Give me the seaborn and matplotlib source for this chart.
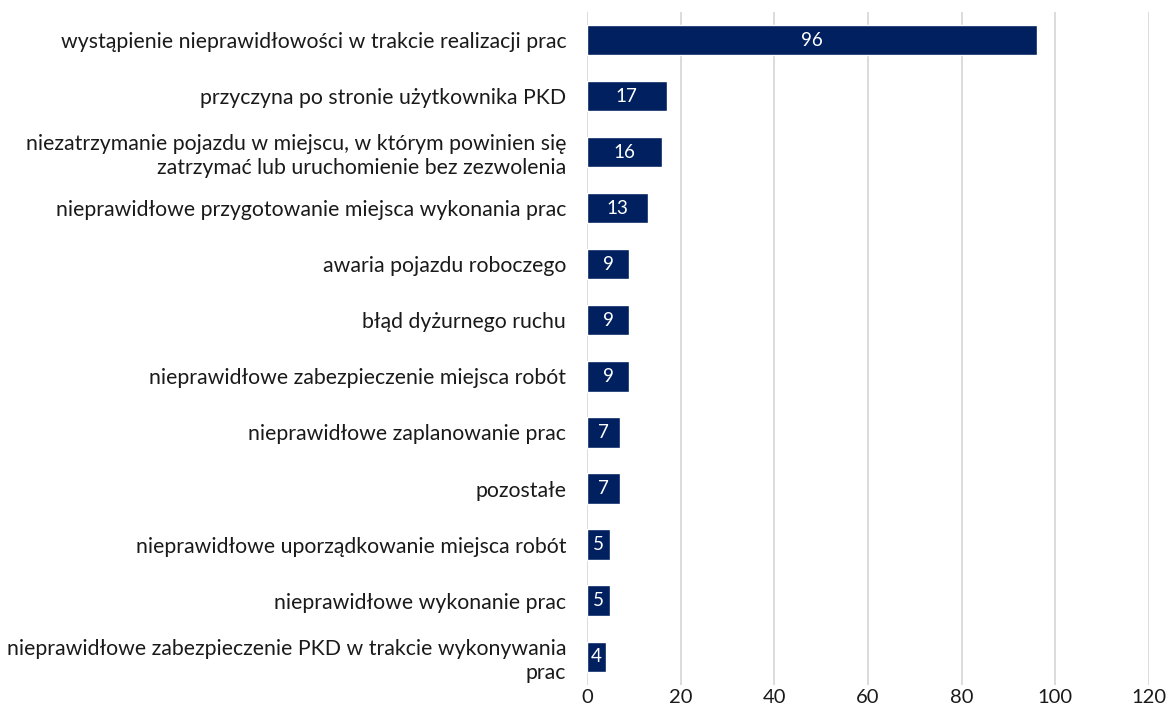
import matplotlib
matplotlib.use("Agg")
import matplotlib.pyplot as plt
import seaborn as sns
import pandas as pd

kategorie = [
    "wystąpienie nieprawidłowości w trakcie realizacji prac",
    "przyczyna po stronie użytkownika PKD",
    "niezatrzymanie pojazdu w miejscu, w którym powinien się\nzatrzymać lub uruchomienie bez zezwolenia",
    "nieprawidłowe przygotowanie miejsca wykonania prac",
    "awaria pojazdu roboczego",
    "błąd dyżurnego ruchu",
    "nieprawidłowe zabezpieczenie miejsca robót",
    "nieprawidłowe zaplanowanie prac",
    "pozostałe",
    "nieprawidłowe uporządkowanie miejsca robót",
    "nieprawidłowe wykonanie prac",
    "nieprawidłowe zabezpieczenie PKD w trakcie wykonywania\nprac",
]
liczba = [96, 17, 16, 13, 9, 9, 9, 7, 7, 5, 5, 4]
x_ticks = [0, 20, 40, 60, 80, 100, 120]

sns.set_theme(style="white")
plt.rcParams['font.family'] = ['Lato', 'DejaVu Sans']

df = pd.DataFrame({"kat": kategorie, "n": liczba})

fig, ax = plt.subplots(figsize=(11.68, 7.11), dpi=100)
fig.subplots_adjust(left=0.5026, right=0.9837, top=0.983, bottom=0.037)

sns.barplot(data=df, x="n", y="kat", color="#002060", saturation=1,
            width=0.54, ax=ax, zorder=3)

for p, v in zip(ax.patches, liczba):
    ax.text(p.get_x() + p.get_width() / 2, p.get_y() + p.get_height() / 2, str(v),
            ha="center", va="center", color="white", fontsize=13.5, zorder=4)

ax.set_xlim(0, 120)
ax.set_xticks(x_ticks)
ax.xaxis.grid(True, color="#d9d9d9", linewidth=1.3, zorder=0)
ax.set_axisbelow(True)
for s in ax.spines.values():
    s.set_visible(False)
ax.set_xlabel("")
ax.set_ylabel("")
ax.tick_params(axis="y", length=0, pad=15, labelsize=15.3, labelcolor="#1a1a1a")
ax.tick_params(axis="x", length=0, pad=3, labelsize=14.5, labelcolor="#1a1a1a")
for t in ax.get_yticklabels():
    t.set_multialignment("right")
    t.set_linespacing(1.25)

fig.savefig("out.png", dpi=100)
